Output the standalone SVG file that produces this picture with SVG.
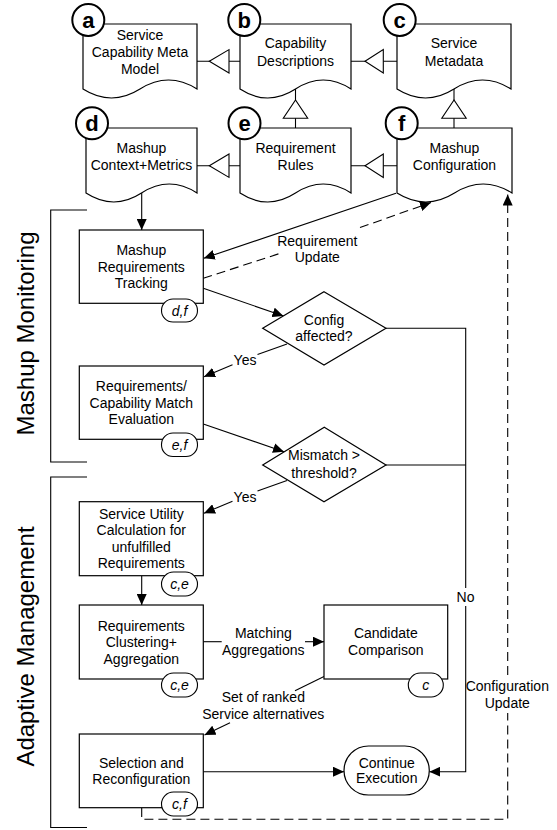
<svg xmlns="http://www.w3.org/2000/svg" width="557" height="830" viewBox="0 0 557 830">
<style>
text{font-family:"Liberation Sans",Arial,sans-serif;font-size:14px;fill:#000;text-anchor:middle}
.shape{fill:#fff;stroke:#000;stroke-width:1.2}
.line{fill:none;stroke:#000;stroke-width:1.1}
.dash{fill:none;stroke:#000;stroke-width:1.1;stroke-dasharray:9 5}
.gen{fill:#fff;stroke:#000;stroke-width:1.1}
.circ{fill:#fff;stroke:#000;stroke-width:2}
.letter{font-size:22px;font-weight:bold}
.tag{fill:#fff;stroke:#000;stroke-width:1.1}
.tagt{font-style:italic;font-size:14px}
.side{font-size:24px}
</style>
<defs>
<marker id="ah" markerWidth="11" markerHeight="10" refX="11" refY="5" orient="auto" markerUnits="userSpaceOnUse">
<path d="M0,0 L11,5 L0,10 Z" fill="#000"/>
</marker>
</defs>

<!-- side brackets and labels -->
<g id="mashup-monitoring">
<path class="line" d="M87,210 H50.7 V462 H87"/>
<text class="side" transform="translate(34,333.5) rotate(-90)">Mashup Monitoring</text>
</g>
<g id="adaptive-management">
<path class="line" d="M87,477 H50.7 V827.5 H87"/>
<text class="side" transform="translate(34,646.5) rotate(-90)">Adaptive Management</text>
</g>

<!-- connectors -->
<g id="connectors">
<!-- generalization a-b-c -->
<path class="line" d="M197,61.3 H240"/>
<polygon class="gen" points="209.3,61.3 229,49.6 229,73"/>
<path class="line" d="M351,61.3 H397"/>
<polygon class="gen" points="365,61.3 383.3,49.6 383.3,73"/>
<path class="line" d="M197,165.7 H240"/>
<polygon class="gen" points="209.3,165.7 229,154 229,177.4"/>
<path class="line" d="M351,165.7 H397"/>
<polygon class="gen" points="365,165.7 383.3,154 383.3,177.4"/>
<path class="line" d="M295.5,89 V128"/>
<polygon class="gen" points="295.5,100 283.3,118.3 307.7,118.3"/>
<path class="line" d="M454,89 V128"/>
<polygon class="gen" points="454,100 441.8,118.3 466.2,118.3"/>

<!-- d -> tracking -->
<path class="line" d="M141.7,193 V230" marker-end="url(#ah)"/>
<!-- f -> tracking -->
<path class="line" d="M396,193.3 L203.8,258.3" marker-end="url(#ah)"/>
<!-- requirement update (dashed) -->
<path class="dash" d="M203.3,278.3 L279,253.7"/>
<path class="dash" d="M360,227.6 L431,202.5" marker-end="url(#ah)"/>
<!-- tracking -> config affected -->
<path class="line" d="M203.3,288.3 L283.5,316" marker-end="url(#ah)"/>
<!-- config -> evaluation (Yes) -->
<path class="line" d="M287,344 L257.5,354.5"/>
<path class="line" d="M232.5,364.7 L204,376.7" marker-end="url(#ah)"/>
<!-- evaluation -> mismatch -->
<path class="line" d="M203.3,424 L284,451.7" marker-end="url(#ah)"/>
<!-- mismatch -> service utility (Yes) -->
<path class="line" d="M287,480.5 L257.5,491"/>
<path class="line" d="M232.5,501.2 L204,513.2" marker-end="url(#ah)"/>
<!-- No path -->
<path class="line" d="M386,328.3 H465.7 V588"/>
<path class="line" d="M386,465 H465.7"/>
<path class="line" d="M465.7,606 V771.7 H429.3" marker-end="url(#ah)"/>
<!-- SU -> clustering -->
<path class="line" d="M141.7,575.7 V605" marker-end="url(#ah)"/>
<!-- matching aggregations -->
<path class="line" d="M203.3,641.7 H221.7"/>
<path class="line" d="M305,641.7 H324" marker-end="url(#ah)"/>
<!-- set of ranked -->
<path class="line" d="M324,676.5 L295,690.8"/>
<path class="line" d="M230,722.7 L204.5,735" marker-end="url(#ah)"/>
<!-- selection -> continue -->
<path class="line" d="M203.3,771.7 H344" marker-end="url(#ah)"/>
<!-- configuration update -->
<path class="dash" d="M141.7,808 V819.3 H507.7 V713"/>
<path class="dash" d="M507.7,675 V194.5" marker-end="url(#ah)"/>

<!-- connector labels -->
<text x="317.3" y="245.7">Requirement</text>
<text x="317.3" y="262.3">Update</text>
<text x="245" y="365">Yes</text>
<text x="245" y="501.5">Yes</text>
<text x="465.5" y="601.7">No</text>
<text x="263.3" y="638.3">Matching</text>
<text x="263.3" y="655">Aggregations</text>
<text x="263.3" y="701.7">Set of ranked</text>
<text x="263.3" y="719">Service alternatives</text>
<text x="507.3" y="691">Configuration</text>
<text x="507.3" y="707.7">Update</text>
</g>

<!-- document nodes -->
<g id="node-a">
<path class="shape" d="M83,24 H197 V89 Q168.5,71 140,89 Q111.5,107 83,89 Z"/>
<text x="140" y="40">Service</text>
<text x="140" y="57">Capability Meta</text>
<text x="140" y="73.5">Model</text>
<circle class="circ" cx="88.3" cy="20" r="16"/>
<text class="letter" x="88.3" y="27.5">a</text>
</g>
<g id="node-b">
<path class="shape" d="M240,24 H351 V89 Q323.25,71 295.5,89 Q267.75,107 240,89 Z"/>
<text x="295.5" y="48.3">Capability</text>
<text x="295.5" y="65.7">Descriptions</text>
<circle class="circ" cx="244.3" cy="20" r="16"/>
<text class="letter" x="244.3" y="27.5">b</text>
</g>
<g id="node-c">
<path class="shape" d="M397,24 H511 V89 Q482.5,71 454,89 Q425.5,107 397,89 Z"/>
<text x="454" y="48.3">Service</text>
<text x="454" y="65.7">Metadata</text>
<circle class="circ" cx="399.7" cy="20" r="16"/>
<text class="letter" x="399.7" y="27.5">c</text>
</g>
<g id="node-d">
<path class="shape" d="M86,128 H197 V193 Q169.25,175 141.5,193 Q113.75,211 86,193 Z"/>
<text x="141.5" y="153.3">Mashup</text>
<text x="141.5" y="169.5">Context+Metrics</text>
<circle class="circ" cx="92" cy="123.3" r="16"/>
<text class="letter" x="92" y="131">d</text>
</g>
<g id="node-e">
<path class="shape" d="M240,128 H351 V193 Q323.25,175 295.5,193 Q267.75,211 240,193 Z"/>
<text x="295.5" y="153.3">Requirement</text>
<text x="295.5" y="169.5">Rules</text>
<circle class="circ" cx="244.5" cy="123.3" r="16"/>
<text class="letter" x="244.5" y="131">e</text>
</g>
<g id="node-f">
<path class="shape" d="M397,128 H512 V193 Q483.25,175 454.5,193 Q425.75,211 397,193 Z"/>
<text x="454.5" y="153.3">Mashup</text>
<text x="454.5" y="169.5">Configuration</text>
<circle class="circ" cx="401.7" cy="123.3" r="16"/>
<text class="letter" x="401.7" y="131">f</text>
</g>

<!-- process nodes -->
<g id="node-tracking">
<rect class="shape" x="79.3" y="230" width="124" height="73.3"/>
<text x="141.3" y="255">Mashup</text>
<text x="141.3" y="271.7">Requirements</text>
<text x="141.3" y="288.3">Tracking</text>
<rect class="tag" x="161.5" y="299" width="36" height="23" rx="11.5"/>
<text class="tagt" x="179.5" y="315.5">d,f</text>
</g>
<g id="node-evaluation">
<rect class="shape" x="79.3" y="366" width="124" height="73.3"/>
<text x="141.3" y="391">Requirements/</text>
<text x="141.3" y="407.7">Capability Match</text>
<text x="141.3" y="424.3">Evaluation</text>
<rect class="tag" x="161.5" y="433" width="36" height="23.5" rx="11.5"/>
<text class="tagt" x="179.5" y="449.5">e,f</text>
</g>
<g id="node-config-affected">
<polygon class="shape" points="324,291.7 386,328.3 324,365 262.7,328.3"/>
<text x="324" y="325">Config</text>
<text x="324" y="340.7">affected?</text>
</g>
<g id="node-mismatch">
<polygon class="shape" points="324.3,427.3 386,465 324,501.7 262.7,465"/>
<text x="324" y="460">Mismatch &gt;</text>
<text x="324" y="478.3">threshold?</text>
</g>
<g id="node-service-utility">
<rect class="shape" x="79.3" y="501.7" width="124" height="74"/>
<text x="141.3" y="518.5">Service Utility</text>
<text x="141.3" y="535">Calculation for</text>
<text x="141.3" y="551.5">unfulfilled</text>
<text x="141.3" y="568">Requirements</text>
<rect class="tag" x="161.5" y="572" width="36" height="24" rx="12"/>
<text class="tagt" x="179.5" y="589">c,e</text>
</g>
<g id="node-clustering">
<rect class="shape" x="79.3" y="605" width="124" height="74"/>
<text x="141.3" y="630.5">Requirements</text>
<text x="141.3" y="647">Clustering+</text>
<text x="141.3" y="663.5">Aggregation</text>
<rect class="tag" x="161.5" y="673" width="36" height="24" rx="12"/>
<text class="tagt" x="179.5" y="690">c,e</text>
</g>
<g id="node-candidate">
<rect class="shape" x="324" y="605" width="123.7" height="74"/>
<text x="385.8" y="638.3">Candidate</text>
<text x="385.8" y="655">Comparison</text>
<rect class="tag" x="408.3" y="673" width="35" height="24" rx="12"/>
<text class="tagt" x="425.8" y="690">c</text>
</g>
<g id="node-selection">
<rect class="shape" x="79.3" y="734" width="124" height="73.7"/>
<text x="141.3" y="767.7">Selection and</text>
<text x="141.3" y="784.3">Reconfiguration</text>
<rect class="tag" x="161.5" y="792" width="36" height="24" rx="12"/>
<text class="tagt" x="179.5" y="809">c,f</text>
</g>
<g id="node-continue">
<rect class="shape" x="344" y="746" width="85.3" height="49" rx="24.5"/>
<text x="386.7" y="767.7">Continue</text>
<text x="386.7" y="783.3">Execution</text>
</g>
</svg>
